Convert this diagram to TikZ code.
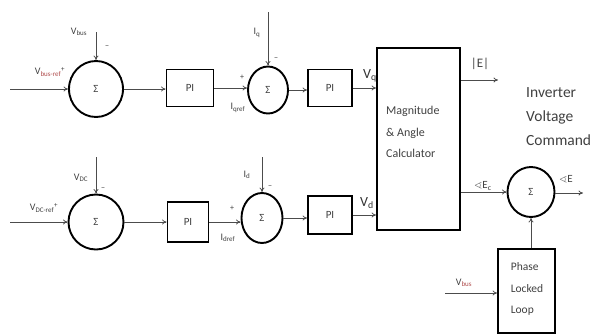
\documentclass[tikz,border=0pt]{standalone}
\usepackage{fontspec}
\usepackage{amssymb}
\setmainfont{Carlito}
\usetikzlibrary{shapes.geometric,arrows.meta}
\tikzset{
  sumnode/.style={ellipse,draw=black,line width=1.9pt,inner sep=0pt,font=\fontsize{11}{12}\selectfont,text=black!75},
  blk/.style={rectangle,draw=black,line width=1.8pt,inner sep=0pt,font=\fontsize{11}{12}\selectfont,text=black!75},
  con/.style={draw=black!70,line width=0.8pt,-{To[length=4.5pt,width=5pt]}},
  lbl/.style={inner sep=0pt,font=\fontsize{10}{11}\selectfont,text=black!75},
  sgn/.style={inner sep=0pt,font=\fontsize{8}{9}\selectfont,text=black!75},
  big/.style={inner sep=0pt,font=\fontsize{14}{15}\selectfont,text=black!80}
}
\begin{document}
\begin{tikzpicture}[x=1pt,y=-1pt]
\useasboundingbox (0,0) rectangle (599,335);
% top row
\node[sumnode,minimum width=54pt,minimum height=56pt] (S1) at (96,89) {Σ};
\node[blk,minimum width=47pt,minimum height=37pt] (PI1) at (190,88) {PI};
\node[sumnode,minimum width=40pt,minimum height=47pt] (S2) at (268,90) {Σ};
\node[blk,minimum width=44pt,minimum height=37pt] (PI2) at (330,88) {PI};
% bottom row
\node[sumnode,minimum width=55pt,minimum height=55pt] (S4) at (96,222) {Σ};
\node[blk,minimum width=41pt,minimum height=40pt] (PI3) at (188,222) {PI};
\node[sumnode,minimum width=41pt,minimum height=50pt] (S5) at (262,218) {Σ};
\node[blk,minimum width=44pt,minimum height=38pt] (PI4) at (330,215) {PI};
% calculator
\node[blk,minimum width=83pt,minimum height=182pt] (C) at (418.5,139) {};
\node[inner sep=0pt,align=left,anchor=west,font=\fontsize{12}{21.5}\selectfont,text=black!75] (Ctext) at (386,132) {Magnitude\\\& Angle\\Calculator};
% right part
\node[sumnode,minimum width=47pt,minimum height=50pt] (S3) at (531,192) {Σ};
\node[blk,minimum width=57pt,minimum height=84pt] (PLL) at (526.5,291) {};
\node[inner sep=0pt,align=left,font=\fontsize{11.5}{21.5}\selectfont,text=black!75] (PLLtext) at (527,289) {Phase\\Locked\\Loop};
\node[inner sep=0pt,align=left,anchor=north west,font=\fontsize{15.5}{24}\selectfont,text=black!75] (IVC) at (526,87) {Inverter\\Voltage\\Command};
% free ends
\coordinate (in1) at (10,89);
\coordinate (vb1) at (96,32);
\coordinate (iq) at (268,12);
\coordinate (in2) at (10,222);
\coordinate (vdc) at (96,157);
\coordinate (id) at (262,157);
\coordinate (Eout) at (498,80);
\coordinate (Aout) at (583,193);
\coordinate (vb2) at (445,293);
% connectors top
\draw[con] (in1) -- (S1.west);
\draw[con] (vb1) -- (S1.north);
\draw[con] (S1.east) -- (PI1.west |- S1.east);
\draw[con] (PI1.east) -- (S2.west |- PI1.east);
\draw[con] (iq) -- (S2.north);
\draw[con] (S2.east) -- (PI2.west |- S2.east);
\draw[con] (PI2.east) -- (C.west |- PI2.east);
% connectors bottom
\draw[con] (in2) -- (S4.west);
\draw[con] (vdc) -- (S4.north);
\draw[con] (S4.east) -- (PI3.west |- S4.east);
\draw[con] (PI3.east) -- (S5.west |- PI3.east);
\draw[con] (id) -- (S5.north);
\draw[con] (S5.east) -- (PI4.west |- S5.east);
\draw[con] (PI4.east) -- (C.west |- PI4.east);
% right connectors
\draw[con] (C.east |- Eout) -- (Eout);
\draw[con] (C.east |- S3.west) -- (S3.west);
\draw[con] (S3.east |- Aout) -- (Aout);
\draw[con] (PLL.north -| S3.south) -- (S3.south);
\draw[con] (vb2) -- (PLL.west |- vb2);
% labels
\node[lbl] (Lvb1) at (79,32) {V\textsubscript{bus}};
\node[sgn] (m1) at (107,47) {\textminus};
\node[lbl] (Lin1) at (50,72) {V\textsubscript{\color{red!55!black!70}bus-ref}\textsuperscript{+}};
\node[lbl] (Liq) at (257,33) {I\textsubscript{q}};
\node[sgn] (p2) at (242,77) {+};
\node[sgn] (m2) at (276,59) {\textminus};
\node[lbl] (Liqr) at (238,108) {I\textsubscript{qref}};
\node[big] (Lvq) at (370,76) {V\textsubscript{q}};
\node[lbl] (Lvdc) at (81,178) {V\textsubscript{DC}};
\node[sgn] (m4) at (103,189) {\textminus};
\node[lbl] (Lin2) at (44,208) {V\textsubscript{DC-ref}\textsuperscript{+}};
\node[lbl] (Lid) at (247,175) {I\textsubscript{d}};
\node[sgn] (p5) at (232,208) {+};
\node[sgn] (m5) at (270,187) {\textminus};
\node[lbl] (Lidr) at (228,238) {I\textsubscript{dref}};
\node[big] (Lvd) at (367,203) {V\textsubscript{d}};
\node[lbl,font=\fontsize{13}{14}\selectfont] (LE) at (480,64) {|E|};
\node[lbl,font=\fontsize{11}{12}\selectfont] (LEc) at (483,186) {$\sphericalangle$E\textsubscript{c}};
\node[lbl,font=\fontsize{11}{12}\selectfont] (LA) at (566,179) {$\sphericalangle$E};
\node[lbl] (Lvb2) at (464,283) {V\textsubscript{\color{red!55!black!70}bus}};
\end{tikzpicture}
\end{document}
